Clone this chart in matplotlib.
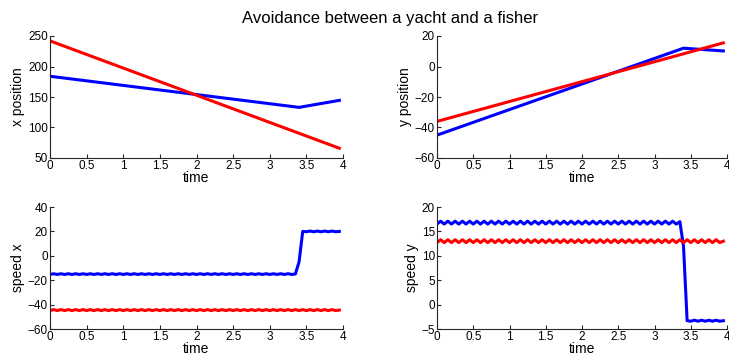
import numpy as np
import matplotlib.pyplot as plt

plt.rcParams['font.family'] = ['Liberation Sans', 'DejaVu Sans']

title = "Avoidance between a yacht and a fisher"

# positions: corner points of the piecewise linear tracks
pos_t_blue = [0.0, 3.4, 3.95]
x_blue = [184, 133, 144.5]
y_blue = [-45, 12, 10.2]
pos_t_red = [0.0, 3.95]
x_red = [242, 66]
y_red = [-36, 15.5]

# speeds sampled every 0.05 s (t = 0 .. 3.95)
t = np.round(np.arange(0, 3.96, 0.05), 2)

speed_x_blue = [
    -15.3, -14.7, -15.3, -14.7, -15.3, -14.7, -15.3, -14.7, -15.3, -14.7,
    -15.3, -14.7, -15.3, -14.7, -15.3, -14.7, -15.3, -14.7, -15.3, -14.7,
    -15.3, -14.7, -15.3, -14.7, -15.3, -14.7, -15.3, -14.7, -15.3, -14.7,
    -15.3, -14.7, -15.3, -14.7, -15.3, -14.7, -15.3, -14.7, -15.3, -14.7,
    -15.3, -14.7, -15.3, -14.7, -15.3, -14.7, -15.3, -14.7, -15.3, -14.7,
    -15.3, -14.7, -15.3, -14.7, -15.3, -14.7, -15.3, -14.7, -15.3, -14.7,
    -15.3, -14.7, -15.3, -14.7, -15.3, -14.7, -15.3, -14.9, -5.0, 20.0,
    19.7, 20.3, 19.7, 20.3, 19.7, 20.3, 19.7, 20.3, 19.7, 20.0,
]
speed_x_red = [
    -44.9, -44.1, -44.9, -44.1, -44.9, -44.1, -44.9, -44.1, -44.9, -44.1,
    -44.9, -44.1, -44.9, -44.1, -44.9, -44.1, -44.9, -44.1, -44.9, -44.1,
    -44.9, -44.1, -44.9, -44.1, -44.9, -44.1, -44.9, -44.1, -44.9, -44.1,
    -44.9, -44.1, -44.9, -44.1, -44.9, -44.1, -44.9, -44.1, -44.9, -44.1,
    -44.9, -44.1, -44.9, -44.1, -44.9, -44.1, -44.9, -44.1, -44.9, -44.1,
    -44.9, -44.1, -44.9, -44.1, -44.9, -44.1, -44.9, -44.1, -44.9, -44.1,
    -44.9, -44.1, -44.9, -44.1, -44.9, -44.1, -44.9, -44.1, -44.9, -44.1,
    -44.9, -44.1, -44.9, -44.1, -44.9, -44.1, -44.9, -44.1, -44.9, -44.5,
]
speed_y_blue = [
    16.5, 17.1, 16.5, 17.1, 16.5, 17.1, 16.5, 17.1, 16.5, 17.1,
    16.5, 17.1, 16.5, 17.1, 16.5, 17.1, 16.5, 17.1, 16.5, 17.1,
    16.5, 17.1, 16.5, 17.1, 16.5, 17.1, 16.5, 17.1, 16.5, 17.1,
    16.5, 17.1, 16.5, 17.1, 16.5, 17.1, 16.5, 17.1, 16.5, 17.1,
    16.5, 17.1, 16.5, 17.1, 16.5, 17.1, 16.5, 17.1, 16.5, 17.1,
    16.5, 17.1, 16.5, 17.1, 16.5, 17.1, 16.5, 17.1, 16.5, 17.1,
    16.5, 17.1, 16.5, 17.1, 16.5, 17.1, 16.5, 17.0, 12.0, -3.3,
    -3.4, -3.2, -3.4, -3.2, -3.4, -3.2, -3.4, -3.2, -3.4, -3.3,
]
speed_y_red = [
    12.7, 13.3, 12.7, 13.3, 12.7, 13.3, 12.7, 13.3, 12.7, 13.3,
    12.7, 13.3, 12.7, 13.3, 12.7, 13.3, 12.7, 13.3, 12.7, 13.3,
    12.7, 13.3, 12.7, 13.3, 12.7, 13.3, 12.7, 13.3, 12.7, 13.3,
    12.7, 13.3, 12.7, 13.3, 12.7, 13.3, 12.7, 13.3, 12.7, 13.3,
    12.7, 13.3, 12.7, 13.3, 12.7, 13.3, 12.7, 13.3, 12.7, 13.3,
    12.7, 13.3, 12.7, 13.3, 12.7, 13.3, 12.7, 13.3, 12.7, 13.3,
    12.7, 13.3, 12.7, 13.3, 12.7, 13.3, 12.7, 13.3, 12.7, 13.3,
    12.7, 13.3, 12.7, 13.3, 12.7, 13.3, 12.7, 13.3, 12.7, 13.0,
]

xticks = [0, 0.5, 1, 1.5, 2, 2.5, 3, 3.5, 4]
xticklabels = ["0", "0.5", "1", "1.5", "2", "2.5", "3", "3.5", "4"]

fig = plt.figure(figsize=(7.29, 3.58), dpi=100)

W, H = 729.0, 358.0
def box(left, top, right, bottom):
    return [left / W, 1 - bottom / H, (right - left) / W, (bottom - top) / H]

ax1 = fig.add_axes(box(50, 36, 343, 158))
ax2 = fig.add_axes(box(437, 36, 727, 158))
ax3 = fig.add_axes(box(50, 207, 343, 329))
ax4 = fig.add_axes(box(437, 207, 727, 329))

lw = 2.2
ax1.plot(pos_t_blue, x_blue, color='#0000ff', lw=lw)
ax1.plot(pos_t_red, x_red, color='#ff0000', lw=lw)
ax2.plot(pos_t_blue, y_blue, color='#0000ff', lw=lw)
ax2.plot(pos_t_red, y_red, color='#ff0000', lw=lw)
ax3.plot(t, speed_x_blue, color='#0000ff', lw=lw)
ax3.plot(t, speed_x_red, color='#ff0000', lw=lw)
ax4.plot(t, speed_y_blue, color='#0000ff', lw=lw)
ax4.plot(t, speed_y_red, color='#ff0000', lw=lw)

setup = [
    (ax1, "x position", (50, 250), [50, 100, 150, 200, 250]),
    (ax2, "y position", (-60, 20), [-60, -40, -20, 0, 20]),
    (ax3, "speed x", (-60, 40), [-60, -40, -20, 0, 20, 40]),
    (ax4, "speed y", (-5, 20), [-5, 0, 5, 10, 15, 20]),
]
for ax, ylab, ylim, yt in setup:
    ax.set_xlim(0, 4)
    ax.set_ylim(*ylim)
    ax.set_xticks(xticks)
    ax.set_xticklabels(xticklabels)
    ax.set_yticks(yt)
    ax.set_xlabel("time", fontsize=10, labelpad=-1)
    ax.set_ylabel(ylab, fontsize=10, labelpad=2)
    ax.spines['top'].set_visible(False)
    ax.spines['right'].set_visible(False)
    for s in ('left', 'bottom'):
        ax.spines[s].set_color('#262626')
        ax.spines[s].set_linewidth(0.8)
    ax.tick_params(direction='in', length=3, width=0.8, colors='#262626',
                   labelsize=8.5, pad=1.5, labelcolor='black')

fig.text(0.535, 0.948, title, ha='center', va='center', fontsize=12)

fig.savefig("out.png", dpi=100)
